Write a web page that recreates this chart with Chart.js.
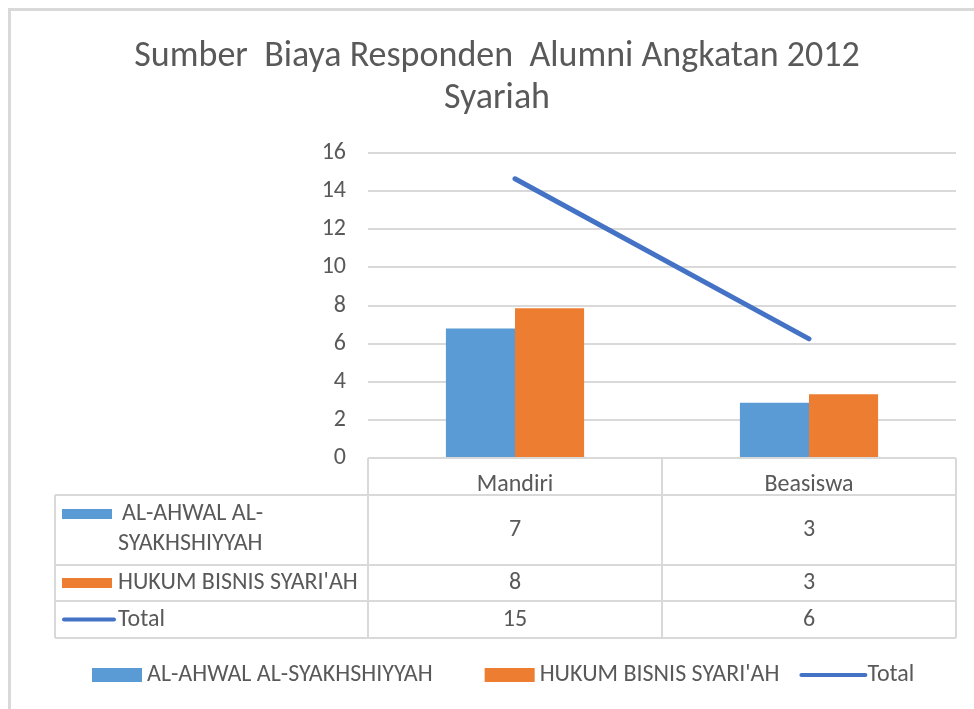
<!DOCTYPE html>
<html>
<head>
<meta charset="utf-8">
<script src="https://cdn.jsdelivr.net/npm/chart.js@4.4.1/dist/chart.umd.min.js"></script>
<style>
  html, body { margin: 0; padding: 0; background: #fff; overflow: hidden; }
  #frame { position: absolute; left: 8px; top: 8px; width: 1000px; height: 760px;
           border-left: 3px solid #d9d9d9; border-top: 3px solid #d9d9d9; }
  #chart { position: absolute; left: 0; top: 0; }
</style>
</head>
<body>
<div id="frame"></div>
<canvas id="chart" width="974" height="709"></canvas>
<script>
// --- Data ---
const categories = ['Mandiri', 'Beasiswa'];
const alAhwal = [6.8, 2.9];
const hukumBisnis = [7.85, 3.35];
const total = [14.65, 6.25];
const seriesNames = ['AL-AHWAL AL-SYAKHSHIYYAH', "HUKUM BISNIS SYARI'AH", 'Total'];
const rowLabels = [['AL-AHWAL AL-', 'SYAKHSHIYYAH'], ["HUKUM BISNIS SYARI'AH"], ['Total']];
const yTicks = [0, 2, 4, 6, 8, 10, 12, 14, 16];

const FONT = "Carlito, Calibri, 'Liberation Sans Narrow', 'Open Sans', sans-serif";
const TEXT = '#595959';
const GRID = '#d9d9d9';
const BLUE = '#5b9bd5', ORANGE = '#ed7d31', LINE = '#4472c4';

// --- Data table + legend drawn under the plot ---
const tablePlugin = {
    id: 'dataTable',
    afterDraw(chart) {
        const { ctx, chartArea, scales: { x } } = chart;
        const top = chartArea.bottom;
        const rows = [top, top + 37, top + 107, top + 143, top + 180];
        const left = 55, right = chartArea.right;
        const half = (x.getPixelForValue(1) - x.getPixelForValue(0)) / 2;
        const cols = [x.getPixelForValue(0) - half, x.getPixelForValue(0) + half, x.getPixelForValue(1) + half];

        ctx.save();
        ctx.strokeStyle = GRID;
        ctx.lineWidth = 2;
        ctx.beginPath();
        // header row
        ctx.moveTo(cols[0], rows[0]); ctx.lineTo(right, rows[0]);
        cols.forEach(cx => { ctx.moveTo(cx, rows[0]); ctx.lineTo(cx, rows[4]); });
        // body rows
        for (let i = 1; i < rows.length; i++) { ctx.moveTo(left, rows[i]); ctx.lineTo(right, rows[i]); }
        ctx.moveTo(left, rows[1]); ctx.lineTo(left, rows[4]);
        ctx.stroke();

        // values
        ctx.fillStyle = TEXT;
        ctx.font = `24px ${FONT}`;
        ctx.textAlign = 'center';
        ctx.textBaseline = 'middle';
        const series = [alAhwal, hukumBisnis, total];
        series.forEach((vals, r) => {
            const cy = (rows[r + 1] + rows[r + 2]) / 2;
            vals.forEach((v, c) => ctx.fillText(String(Math.round(v)), x.getPixelForValue(c), cy));
        });

        // row keys + labels
        ctx.textAlign = 'left';
        const keyColors = [BLUE, ORANGE, LINE];
        series.forEach((vals, r) => {
            const cy = (rows[r + 1] + rows[r + 2]) / 2;
            const lines = rowLabels[r];
            const keyY = lines.length > 1 ? cy - 16 : cy;
            if (r < 2) {
                ctx.fillStyle = keyColors[r];
                ctx.fillRect(62, keyY - 5, 50, 10);
            } else {
                ctx.strokeStyle = keyColors[r];
                ctx.lineWidth = 4;
                ctx.lineCap = 'round';
                ctx.beginPath(); ctx.moveTo(64, cy); ctx.lineTo(114, cy); ctx.stroke();
            }
            ctx.fillStyle = TEXT;
            lines.forEach((t, k) => {
                const ty = lines.length > 1 ? cy - 16 + k * 30 : cy;
                ctx.fillText(t, k === 0 && lines.length > 1 ? 122 : 118, ty);
            });
        });

        // legend
        const ly = 675;
        let lx = 92;
        seriesNames.forEach((name, i) => {
            if (i < 2) {
                ctx.fillStyle = keyColors[i];
                ctx.fillRect(lx, ly - 7, 50, 14);
                lx += 55;
            } else {
                ctx.strokeStyle = keyColors[i];
                ctx.lineWidth = 4;
                ctx.lineCap = 'round';
                ctx.beginPath(); ctx.moveTo(lx + 2, ly); ctx.lineTo(lx + 66, ly); ctx.stroke();
                lx += 68;
            }
            ctx.fillStyle = TEXT;
            ctx.fillText(name, lx, ly);
            lx += ctx.measureText(name).width + (i === 0 ? 52 : 20);
        });
        ctx.restore();
    }
};

const ctx = document.getElementById('chart').getContext('2d');
new Chart(ctx, {
    data: {
        labels: categories,
        datasets: [
            { type: 'bar', label: seriesNames[0], data: alAhwal, backgroundColor: BLUE, order: 2 },
            { type: 'bar', label: seriesNames[1], data: hukumBisnis, backgroundColor: ORANGE, order: 2 },
            { type: 'line', label: seriesNames[2], data: total, borderColor: LINE, borderWidth: 5,
              borderCapStyle: 'round', pointRadius: 0, tension: 0, order: 1 }
        ]
    },
    options: {
        responsive: false,
        animation: false,
        devicePixelRatio: 1,
        layout: { padding: { left: 38, right: 18, top: 0, bottom: 71 } },
        datasets: { bar: { categoryPercentage: 0.47, barPercentage: 1 } },
        plugins: {
            legend: { display: false },
            tooltip: { enabled: false },
            title: {
                display: true,
                text: ['Sumber  Biaya Responden  Alumni Angkatan 2012', 'Syariah'],
                color: TEXT,
                font: { family: FONT, size: 36, weight: 'normal', lineHeight: 1.167 },
                padding: { top: 36, bottom: 33 }
            }
        },
        scales: {
            x: {
                grid: { display: false },
                border: { display: false },
                ticks: { color: TEXT, font: { family: FONT, size: 24 }, padding: 5 },
                afterFit(scale) { scale.height = 180; }
            },
            y: {
                min: 0,
                max: 16,
                afterBuildTicks(scale) { scale.ticks = yTicks.map(v => ({ value: v })); },
                grid: { color: GRID, lineWidth: 2, drawTicks: false },
                border: { display: false },
                ticks: { color: TEXT, font: { family: FONT, size: 24 }, padding: 22 },
                afterFit(scale) { scale.width = 330; }
            }
        }
    },
    plugins: [tablePlugin]
});
</script>
</body>
</html>
